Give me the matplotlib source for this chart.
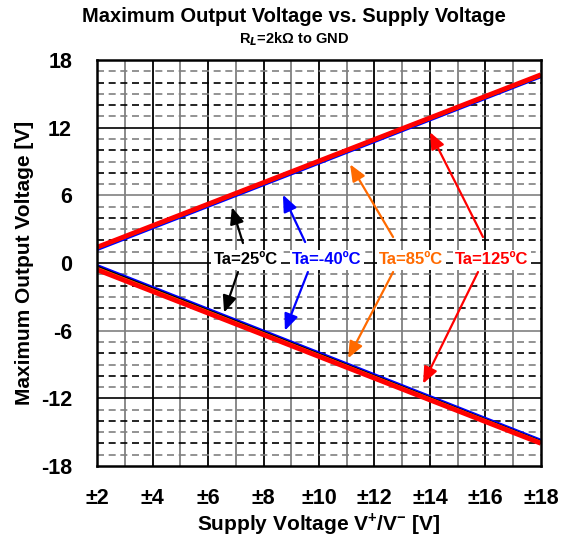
import matplotlib
matplotlib.use("Agg")
import matplotlib.pyplot as plt

plt.rcParams['font.family'] = ['Liberation Sans', 'DejaVu Sans']
plt.rcParams['font.weight'] = 'bold'
plt.rcParams['axes.unicode_minus'] = False
plt.rcParams['mathtext.fontset'] = 'custom'
plt.rcParams['mathtext.rm'] = 'Liberation Sans:bold'
plt.rcParams['mathtext.bf'] = 'Liberation Sans:bold'

supply = [2, 18]
# Upper (positive swing) output voltage
vmax_125 = [1.40, 16.70]
vmax_85 = [1.35, 16.65]
vmax_25 = [1.30, 16.58]
vmax_m40 = [1.15, 16.48]
# Lower (negative swing) output voltage
vmin_125 = [-0.60, -16.00]
vmin_85 = [-0.48, -15.92]
vmin_25 = [-0.32, -15.82]
vmin_m40 = [-0.18, -15.68]

series = [
    ("Ta=-40ºC", "#0000ff", 1.6, vmax_m40, vmin_m40),
    ("Ta=25ºC", "#000000", 1.6, vmax_25, vmin_25),
    ("Ta=85ºC", "#ff6a00", 2.4, vmax_85, vmin_85),
    ("Ta=125ºC", "#ff0000", 3.4, vmax_125, vmin_125),
]

x_ticks = list(range(2, 19, 2))
x_tick_labels = ["±%d" % v for v in x_ticks]
y_ticks = [-18, -12, -6, 0, 6, 12, 18]

# label positions (x), arrow tails/tips (data coords)
labels = [
    ("Ta=25ºC", "#000000", 7.37, [((7.26, 1.77), (6.86, 4.95)), ((7.08, -0.80), (6.58, -4.40))]),
    ("Ta=-40ºC", "#0000ff", 10.29, [((9.50, 1.86), (8.70, 6.05)), ((9.60, -0.80), (8.77, -6.0))]),
    ("Ta=85ºC", "#ff6a00", 13.32, [((12.67, 2.30), (11.12, 8.75)), ((12.67, -0.80), (11.05, -8.45))]),
    ("Ta=125ºC", "#ff0000", 16.23, [((15.91, 2.30), (14.0, 11.6)), ((15.73, -0.80), (13.75, -10.7))]),
]

fig = plt.figure(figsize=(5.65, 5.43), dpi=100)
ax = fig.add_axes([0.1717, 0.1418, 0.9575 - 0.1717, 0.8895 - 0.1418])
ax.set_xlim(2, 18)
ax.set_ylim(-18, 18)

# grid
for xv in range(3, 18):
    ax.axvline(xv, color="#000000" if xv % 2 == 0 else "#808080", lw=1.3, zorder=1)
for yv in range(-17, 18):
    if yv % 6 == 0:
        ax.axhline(yv, color="#000000" if (yv // 6) % 2 == 0 else "#808080", lw=1.2, zorder=1)
    else:
        ax.axhline(yv, color="#000000" if yv % 2 == 0 else "#808080", lw=1.2,
                   dashes=(4.2, 2.8), dash_capstyle='butt', zorder=1)

for name, col, lw, up, lo in series:
    ax.plot(supply, up, color=col, lw=lw, solid_capstyle='butt', zorder=3)
    ax.plot(supply, lo, color=col, lw=lw, solid_capstyle='butt', zorder=3)

for text, col, xl, arrows in labels:
    ax.text(xl, 0.3, text, color=col, fontsize=12, fontweight='bold', ha='center', va='center',
            bbox=dict(boxstyle='square,pad=0.15', fc='white', ec='none'), zorder=5)
    for tail, tip in arrows:
        ax.annotate("", xy=tip, xytext=tail,
                    arrowprops=dict(arrowstyle='-|>,head_length=1.0,head_width=0.42',
                                    color=col, lw=1.6, shrinkA=0, shrinkB=0), zorder=6)

ax.set_xticks(x_ticks)
ax.set_xticklabels(x_tick_labels)
ax.set_yticks(y_ticks)
ax.tick_params(axis='both', length=0, labelsize=15.5)
ax.tick_params(axis='x', pad=16)
ax.tick_params(axis='y', pad=18)
for lab in ax.get_xticklabels() + ax.get_yticklabels():
    lab.set_fontweight('bold')
for sp in ax.spines.values():
    sp.set_linewidth(1.8)
    sp.set_color('#000000')
    sp.set_zorder(7)

ax.set_xlabel("Supply Voltage V$^{+}$/V$^{-}$ [V]", fontsize=15, fontweight='bold', labelpad=1)
ax.set_ylabel("Maximum Output Voltage [V]", fontsize=15, fontweight='bold', labelpad=5)

fig.text(0.52, 0.9705, "Maximum Output Voltage vs. Supply Voltage", ha='center', va='center',
         fontsize=14.5, fontweight='bold')
fig.text(0.52, 0.928, "R$_{L}$=2kΩ to GND", ha='center', va='center',
         fontsize=10.5, fontweight='bold')

fig.savefig("out.png", dpi=100)
